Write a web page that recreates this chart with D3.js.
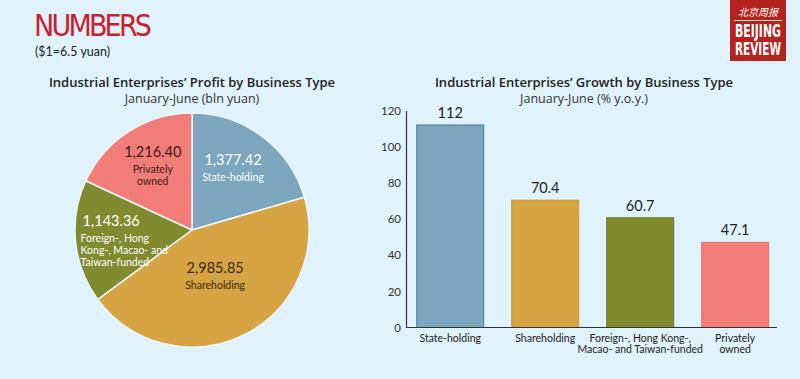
<!DOCTYPE html>
<html><head><meta charset="utf-8">
<script src="https://cdn.jsdelivr.net/npm/d3@7"></script>
<style>
html,body{margin:0;padding:0;background:#e0f2fb;}
svg{display:block;}
text{font-family:Lato,"Noto Sans",sans-serif;}
</style></head>
<body>
<svg id="c" width="800" height="379"></svg>
<script>
// ---- data ----
const pieCategories = ["State-holding","Shareholding","Foreign-, Hong Kong-, Macao- and Taiwan-funded","Privately owned"];
const pieValues = [1377.42, 2985.85, 1143.36, 1216.40];
const pieValueLabels = ["1,377.42","2,985.85","1,143.36","1,216.40"];
const pieNameLines = [["State-holding"],["Shareholding"],["Foreign-, Hong","Kong-, Macao- and","Taiwan-funded"],["Privately","owned"]];

const barCategories = ["State-holding","Shareholding","Foreign-, Hong Kong-, Macao- and Taiwan-funded","Privately owned"];
const barValues = [112, 70.4, 60.7, 47.1];
const barValueLabels = ["112","70.4","60.7","47.1"];
const barNameLines = [["State-holding"],["Shareholding"],["Foreign-, Hong Kong-,","Macao- and Taiwan-funded"],["Privately","owned"]];
const yTicks = [0,20,40,60,80,100,120];

// ---- styles ----
const colors = ["#7ba6bd","#d7a443","#7f8b2e","#f17c78"];
const strokes = ["#4f7d96","#c99535","#6f7a24","#e46e6a"];
const pieTextColor = ["#ffffff","#3a2a10","#ffffff","#3a1a1a"];

const svg = d3.select("#c");

// Header
svg.append("text").attr("x",34).attr("y",36)
  .style("font-family","'Liberation Sans Narrow','DejaVu Sans Condensed',sans-serif")
  .style("font-size","30px").attr("fill","#c9202e").attr("textLength",118).text("NUMBERS");
svg.append("text").attr("x",35).attr("y",56).style("font-size","12.5px").attr("fill","#222").text("($1=6.5 yuan)");

// Logo
const lg = svg.append("g");
lg.append("rect").attr("x",730).attr("y",0).attr("width",56).attr("height",61).attr("fill","#b5231f");
lg.append("text").attr("x",758).attr("y",16).attr("text-anchor","middle").attr("fill","#fff")
  .style("font-family","'Noto Sans CJK SC',sans-serif").style("font-size","10px").style("font-style","italic").text("北京周报");
lg.append("line").attr("x1",734).attr("x2",782).attr("y1",20.5).attr("y2",20.5).attr("stroke","#fff").attr("stroke-width",0.8);
["BEIJING","REVIEW"].forEach((t,i)=>{
  lg.append("text").attr("text-anchor","middle").attr("fill","#fff")
    .attr("transform",`translate(758,${37+i*18}) scale(1,1.25)`)
    .style("font-family","'Liberation Sans Narrow','DejaVu Sans Condensed',sans-serif").style("font-weight","bold")
    .style("font-size","13.5px").attr("textLength",46).attr("lengthAdjust","spacingAndGlyphs").text(t);
});

// Titles
function title(x, t1, t2){
  svg.append("text").attr("x",x).attr("y",87).attr("text-anchor","middle")
    .style("font-family","'Open Sans','Noto Sans',sans-serif")
    .style("font-size","13px").style("font-weight","600").attr("fill","#222").text(t1);
  svg.append("text").attr("x",x).attr("y",103).attr("text-anchor","middle")
    .style("font-family","'Open Sans','Noto Sans',sans-serif")
    .style("font-size","12.5px").attr("fill","#333").text(t2);
}
title(192,"Industrial Enterprises\u2019 Profit by Business Type","January-June (bln yuan)");
title(584,"Industrial Enterprises\u2019 Growth by Business Type","January-June (% y.o.y.)");

// ---- Pie ----
const cx = 192, cy = 230, R = 117;
const pie = d3.pie().sort(null).value(d=>d)(pieValues);
const arc = d3.arc().innerRadius(0).outerRadius(R);
const pg = svg.append("g").attr("transform",`translate(${cx},${cy})`);
pg.selectAll("path").data(pie).join("path")
  .attr("d",arc).attr("fill",(d,i)=>colors[i]).attr("stroke","#eef6fa").attr("stroke-width",1.5);

// label layout (radius along angle, anchor, x-shift)
const labelLayout = [
  {r:76, angle:0.57, anchor:"middle", dx:0},
  {r:50, angle:2.66, anchor:"middle", dx:0},
  {r:86, angle:4.60, anchor:"start", dx:-26},
  {r:76, angle:5.74, anchor:"middle", dx:0}
];
pie.forEach((d,i)=>{
  const L = labelLayout[i];
  const a = L.angle;
  const x = L.r*Math.sin(a) + L.dx, y = -L.r*Math.cos(a);
  const lines = pieNameLines[i];
  const totalH = 17 + lines.length*12;
  const y0 = y - totalH/2 + 13;
  const g = pg.append("g");
  g.append("text").attr("x",x+(L.anchor==="start"?2:0)).attr("y",y0).attr("text-anchor",L.anchor)
    .style("font-size","14.5px").attr("fill",pieTextColor[i]).text(pieValueLabels[i]);
  lines.forEach((ln,j)=>{
    g.append("text").attr("x",x).attr("y",y0+16+j*12).attr("text-anchor",L.anchor)
      .style("font-size","10.5px").attr("fill",pieTextColor[i]).text(ln);
  });
});

// ---- Bars ----
const x = d3.scaleBand().domain(barCategories).range([406,779.4]).paddingInner(0.2947).paddingOuter(0.113);
const y = d3.scaleLinear().domain([0,120]).range([327.5,110.5]);

const bg = svg.append("g");
bg.selectAll("rect").data(barValues).join("rect")
  .attr("x",(d,i)=>x(barCategories[i])).attr("width",x.bandwidth())
  .attr("y",d=>y(d)).attr("height",d=>y(0)-y(d))
  .attr("fill",(d,i)=>colors[i]).attr("stroke",(d,i)=>strokes[i]).attr("stroke-width",1);

bg.selectAll("text.v").data(barValues).join("text").attr("class","v")
  .attr("x",(d,i)=>x(barCategories[i])+x.bandwidth()/2).attr("y",d=>y(d)-7)
  .attr("text-anchor","middle").style("font-size","14.5px").attr("fill","#222")
  .text((d,i)=>barValueLabels[i]);

// y axis
const yAxis = d3.axisLeft(y).tickValues(yTicks).tickSize(0).tickPadding(5);
const ya = svg.append("g").attr("transform","translate(406,0)").call(yAxis);
ya.select(".domain").attr("stroke","#333").attr("stroke-width",1.2);
ya.selectAll("text").style("font-size","11.5px").attr("fill","#333").style("font-family","Lato,sans-serif");

// x axis
const xAxis = d3.axisBottom(x).tickSize(0).tickFormat("");
const xa = svg.append("g").attr("transform",`translate(0,${y(0)})`).call(xAxis);
xa.select(".domain").attr("stroke","#333").attr("stroke-width",1.2).attr("d","M406,0H777");

barCategories.forEach((c,i)=>{
  barNameLines[i].forEach((ln,j)=>{
    svg.append("text").attr("x",x(c)+x.bandwidth()/2).attr("y",y(0)+14+j*11.5)
      .attr("text-anchor","middle").style("font-size","10.5px").attr("fill","#222").text(ln);
  });
});
</script>
</body></html>
